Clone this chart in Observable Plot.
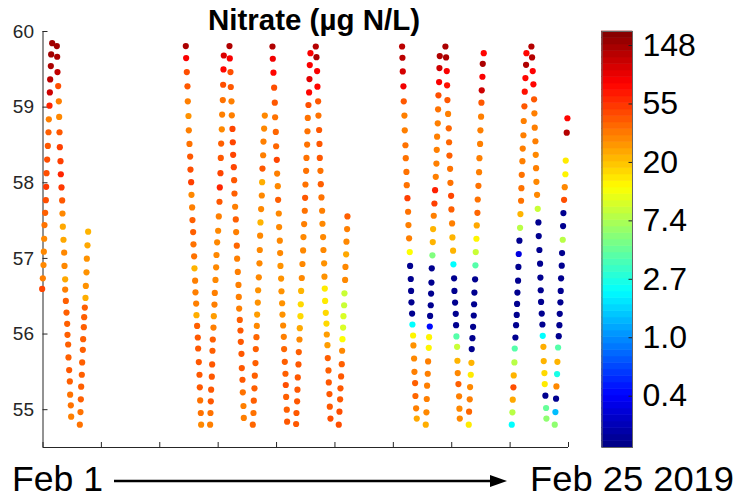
<!DOCTYPE html>
<html><head><meta charset="utf-8">
<script src="https://cdn.jsdelivr.net/npm/d3@7"></script>
<script src="https://cdn.jsdelivr.net/npm/@observablehq/plot@0.6"></script>
<style>
body{margin:0;background:#fff;}
#fig{position:relative;width:737px;height:499px;overflow:hidden;font-family:"Liberation Sans",Arial,sans-serif;background:#fff;}
#main,#cbar,#over{position:absolute;top:0;}
#main{left:0;} #cbar{left:590px;} #over{left:0;pointer-events:none;}
</style></head>
<body><div id="fig"><div id="main"></div><div id="cbar"></div>
<svg id="over" width="737" height="499" font-family="Liberation Sans, Arial, sans-serif">
<text id="title" x="314" y="30" text-anchor="middle" font-weight="bold" font-size="29.5">Nitrate (µg N/L)</text>
<text x="12" y="491" font-size="35" fill="#000" textLength="91" lengthAdjust="spacingAndGlyphs">Feb 1</text>
<line x1="114" y1="481" x2="493" y2="481" stroke="#000" stroke-width="2.5"/>
<path d="M507,481L490,475L490,487Z" fill="#000"/>
<text x="530" y="491" font-size="35" fill="#000" textLength="204" lengthAdjust="spacingAndGlyphs">Feb 25 2019</text>
</svg></div>
<script>
// each point: [day of Feb 2019, latitude (°N), nitrate (µg N/L)]
const trackA = [[1.419,59.846,150],[1.373,59.697,150],[1.358,59.543,140],[1.327,59.367,125],[1.312,59.195,110],[1.297,59.019,60],[1.266,58.839,32],[1.251,58.668,40],[1.221,58.487,42],[1.190,58.307,45],[1.160,58.127,45],[1.145,57.946,52],[1.129,57.770,45],[1.099,57.603,40],[1.068,57.441,35],[1.053,57.260,30],[1.038,57.089,30],[1.023,56.913,30],[0.992,56.737,32],[0.962,56.596,48]];
const trackB = [[1.632,59.807,150],[1.647,59.666,140],[1.662,59.463,120],[1.693,59.279,45],[1.723,59.077,32],[1.738,58.870,30],[1.754,58.668,42],[1.769,58.470,50],[1.799,58.285,50],[1.814,58.113,60],[1.845,57.938,52],[1.875,57.766,42],[1.890,57.594,30],[1.906,57.419,24],[1.936,57.247,24],[1.967,57.076,30],[1.982,56.900,30],[2.012,56.724,24],[2.012,56.588,32],[2.043,56.438,40],[2.073,56.284,40],[2.104,56.135,40],[2.119,55.990,40],[2.149,55.862,40],[2.164,55.691,40],[2.195,55.523,42],[2.225,55.374,40],[2.240,55.198,35],[2.271,55.057,35],[2.286,54.908,32]];
const trackC = [[3.062,57.353,22],[3.032,57.173,24],[3.002,56.997,28],[2.986,56.816,28],[2.956,56.636,28],[2.941,56.478,23],[2.910,56.350,40],[2.880,56.223,40],[2.865,56.091,40],[2.834,55.932,40],[2.819,55.792,40],[2.789,55.625,40],[2.773,55.462,40],[2.743,55.304,40],[2.728,55.137,40],[2.712,54.969,35],[2.682,54.802,35]];
const trackD = [[7.522,59.807,140],[7.537,59.648,80],[7.568,59.463,45],[7.598,59.275,42],[7.613,59.077,32],[7.644,58.883,28],[7.659,58.694,32],[7.689,58.514,35],[7.720,58.347,42],[7.735,58.175,45],[7.766,58.008,50],[7.781,57.841,30],[7.811,57.674,32],[7.826,57.507,40],[7.857,57.348,40],[7.872,57.186,35],[7.902,57.027,35],[7.918,56.869,22],[7.948,56.706,32],[7.963,56.552,32],[7.994,56.403,32],[8.009,56.249,23],[8.039,56.108,40],[8.070,55.954,42],[8.085,55.809,42],[8.116,55.629,42],[8.146,55.462,42],[8.161,55.295,42],[8.177,55.123,35],[8.207,54.956,35],[8.222,54.802,30]];
const trackE = [[9.257,59.683,100],[9.242,59.499,75],[9.227,59.296,45],[9.212,59.094,35],[9.181,58.901,32],[9.166,58.707,30],[9.136,58.518,40],[9.120,58.329,42],[9.105,58.127,48],[9.075,57.938,60],[9.060,57.749,42],[9.029,57.555,32],[8.999,57.366,30],[8.953,57.212,30],[8.923,57.045,30],[8.907,56.882,30],[8.877,56.715,30],[8.846,56.544,32],[8.831,56.390,32],[8.801,56.236,26],[8.786,56.086,32],[8.755,55.928,40],[8.740,55.779,40],[8.725,55.598,42],[8.710,55.436,42],[8.679,55.264,42],[8.664,55.110,42],[8.649,54.956,35],[8.633,54.802,32]];
const trackF = [[9.516,59.807,135],[9.531,59.644,80],[9.562,59.463,45],[9.577,59.266,42],[9.608,59.077,32],[9.623,58.892,32],[9.653,58.712,48],[9.668,58.536,48],[9.684,58.369,48],[9.714,58.206,48],[9.729,58.034,42],[9.745,57.858,40],[9.775,57.683,32],[9.805,57.515,40],[9.821,57.348,32],[9.851,57.168,38],[9.866,56.997,32],[9.897,56.821,32],[9.927,56.649,32],[9.942,56.491,32],[9.958,56.337,32],[9.988,56.187,40],[10.018,56.047,42],[10.034,55.897,42],[10.064,55.739,42],[10.079,55.550,42],[10.110,55.396,42],[10.125,55.229,35],[10.155,55.049,32],[10.171,54.891,32]];
const trackG = [[11.130,58.888,30],[11.099,58.716,30],[11.069,58.545,32],[11.054,58.364,32],[11.023,58.188,42],[11.008,58.008,23],[10.993,57.832,30],[10.962,57.652,30],[10.932,57.476,22],[10.916,57.300,30],[10.901,57.111,30],[10.886,56.935,30],[10.856,56.750,30],[10.825,56.579,28],[10.810,56.416,28],[10.779,56.258,26],[10.764,56.108,30],[10.749,55.959,38],[10.719,55.801,40],[10.703,55.616,40],[10.673,55.449,40],[10.658,55.282,40],[10.627,55.119,40],[10.612,54.956,35],[10.582,54.802,38]];
const trackH = [[11.480,59.802,135],[11.495,59.640,85],[11.525,59.455,75],[11.556,59.257,45],[11.586,59.059,42],[11.601,58.866,35],[11.632,58.672,38],[11.647,58.483,38],[11.678,58.303,48],[11.693,58.122,32],[11.723,57.955,30],[11.738,57.775,40],[11.769,57.594,30],[11.784,57.414,30],[11.815,57.234,30],[11.830,57.071,30],[11.845,56.900,28],[11.875,56.733,28],[11.891,56.566,28],[11.921,56.407,28],[11.936,56.258,28],[11.967,56.113,30],[11.997,55.963,32],[12.012,55.801,38],[12.043,55.633,40],[12.073,55.475,40],[12.088,55.326,45],[12.104,55.168,40],[12.134,55.000,40],[12.149,54.842,42]];
const trackI = [[13.215,59.714,80],[13.184,59.556,80],[13.169,59.371,95],[13.154,59.195,75],[13.123,59.028,45],[13.093,58.857,35],[13.078,58.681,35],[13.063,58.505,35],[13.032,58.329,35],[13.017,58.158,35],[12.986,57.977,35],[12.971,57.801,42],[12.956,57.630,35],[12.926,57.454,32],[12.895,57.282,30],[12.880,57.106,30],[12.849,56.926,30],[12.819,56.741,30],[12.789,56.570,22],[12.773,56.394,17],[12.758,56.236,17],[12.728,56.078,24],[12.713,55.928,30],[12.682,55.761,40],[12.667,55.598,42],[12.636,55.427,42],[12.621,55.264,42],[12.606,55.110,42],[12.575,54.956,42],[12.560,54.811,42]];
const trackJ = [[13.458,59.802,130],[13.489,59.661,140],[13.519,59.477,80],[13.534,59.270,75],[13.565,59.077,42],[13.580,58.888,35],[13.611,58.698,42],[13.626,58.514,42],[13.641,58.329,42],[13.671,58.158,35],[13.687,57.982,40],[13.717,57.806,35],[13.748,57.630,32],[13.763,57.458,30],[13.793,57.282,30],[13.808,57.111,30],[13.839,56.935,28],[13.854,56.759,28],[13.869,56.601,15],[13.885,56.438,15],[13.915,56.280,17],[13.945,56.139,17],[13.961,55.994,26],[13.991,55.853,26],[14.006,55.682,40],[14.037,55.519,40],[14.052,55.361,42],[14.082,55.207,42],[14.098,55.040,42],[14.128,54.882,45]];
const trackK = [[14.904,57.555,40],[14.889,57.388,32],[14.859,57.221,30],[14.844,57.054,24],[14.813,56.887,30],[14.798,56.715,30],[14.767,56.539,9],[14.752,56.381,9],[14.722,56.236,10],[14.706,56.086,10],[14.676,55.932,13],[14.661,55.779,30],[14.645,55.602,40],[14.615,55.440,42],[14.585,55.282,42],[14.569,55.137,42],[14.539,54.974,45],[14.508,54.802,45]];
const trackL = [[17.400,59.802,125],[17.416,59.653,125],[17.431,59.472,105],[17.461,59.275,85],[17.476,59.077,42],[17.507,58.888,32],[17.522,58.694,32],[17.553,58.496,35],[17.568,58.325,35],[17.598,58.144,35],[17.613,57.968,35],[17.644,57.797,50],[17.674,57.617,35],[17.690,57.441,32],[17.720,57.265,32],[17.750,57.084,13],[17.766,56.900,0.17],[17.796,56.728,0.17],[17.811,56.570,0.17],[17.827,56.420,0.17],[17.857,56.271,0.17],[17.872,56.126,2.2],[17.903,55.981,14],[17.918,55.849,28],[17.948,55.677,30],[17.964,55.501,32],[17.994,55.352,40],[18.009,55.181,38],[18.040,55.018,32],[18.070,54.882,24]];
const trackM = [[19.120,59.675,135],[19.105,59.516,110],[19.090,59.332,80],[19.060,59.156,45],[19.044,58.971,35],[19.029,58.786,32],[18.999,58.610,32],[18.983,58.435,32],[18.968,58.254,32],[18.938,58.078,32],[18.907,57.902,62],[18.877,57.726,50],[18.846,57.564,32],[18.816,57.388,22],[18.801,57.216,22],[18.785,57.041,5.4],[18.755,56.869,0.17],[18.740,56.680,0.17],[18.724,56.535,0.17],[18.709,56.381,0.17],[18.679,56.240,0.17],[18.664,56.100,0.4],[18.633,55.959,14],[18.618,55.818,14],[18.588,55.638,32],[18.572,55.475,32],[18.542,55.317,32],[18.527,55.141,32],[18.511,54.965,30],[18.481,54.802,23]];
const trackN = [[19.379,59.802,140],[19.409,59.657,140],[19.440,59.477,80],[19.455,59.288,70],[19.470,59.094,42],[19.501,58.910,32],[19.531,58.720,38],[19.546,58.536,38],[19.562,58.360,40],[19.592,58.184,35],[19.607,57.999,35],[19.638,57.828,48],[19.653,57.647,40],[19.683,57.463,32],[19.699,57.278,22],[19.729,57.102,22],[19.744,56.922,2.2],[19.775,56.737,0.17],[19.790,56.570,0.17],[19.820,56.416,0.17],[19.851,56.267,0.17],[19.866,56.117,0.17],[19.881,55.968,4],[19.912,55.831,9],[19.927,55.647,22],[19.942,55.484,30],[19.973,55.339,40],[20.003,55.176,32],[20.018,55.013,30],[20.034,54.882,30]];
const trackO = [[21.129,59.714,75],[21.084,59.573,140],[21.069,59.402,80],[21.038,59.222,110],[21.023,59.059,42],[21.008,58.874,32],[20.977,58.694,32],[20.962,58.514,32],[20.932,58.325,32],[20.916,58.140,32],[20.886,57.960,35],[20.855,57.779,35],[20.840,57.603,38],[20.810,57.436,24],[20.795,57.260,14],[20.764,57.084,9],[20.749,56.909,4],[20.734,56.724,0.17],[20.703,56.548,0.17],[20.688,56.394,0.17],[20.673,56.245,0.17],[20.642,56.095,0.17],[20.612,55.946,0.17],[20.581,55.801,0.17],[20.566,55.620,22],[20.536,55.462,15],[20.505,55.299,30],[20.490,55.137,32],[20.460,54.974,38],[20.444,54.802,15]];
const trackP = [[23.078,59.714,75],[23.062,59.560,135],[23.032,59.384,75],[23.002,59.204,70],[22.986,59.011,42],[22.956,58.817,32],[22.941,58.628,32],[22.910,58.452,32],[22.895,58.285,32],[22.865,58.105,35],[22.849,57.929,35],[22.834,57.762,35],[22.804,57.586,22],[22.788,57.405,8],[22.758,57.234,0.17],[22.727,57.058,0.3],[22.712,56.887,0.17],[22.697,56.706,0.17],[22.667,56.548,0.17],[22.651,56.398,0.17],[22.636,56.253,0.17],[22.606,56.117,0.17],[22.575,55.954,0.17],[22.545,55.809,4],[22.530,55.625,8],[22.499,55.453,22],[22.484,55.295,45],[22.454,55.132,24],[22.438,54.965,8],[22.408,54.802,2.2]];
const trackQ = [[23.306,59.802,130],[23.336,59.657,130],[23.367,59.477,78],[23.397,59.301,75],[23.428,59.103,42],[23.443,58.918,32],[23.458,58.729,32],[23.489,58.549,32],[23.504,58.369,30],[23.519,58.193,32],[23.534,58.012,30],[23.565,57.841,30],[23.595,57.656,9],[23.625,57.476,0.17],[23.641,57.295,0.17],[23.671,57.111,0.17],[23.702,56.931,0.17],[23.717,56.746,0.17],[23.732,56.579,0.17],[23.747,56.425,0.17],[23.778,56.271,0.17],[23.808,56.126,0.17],[23.823,55.976,2.2],[23.854,55.831,23],[23.869,55.642,22],[23.900,55.484,17],[23.915,55.339,15],[23.945,55.185,0.17],[23.976,55.022,4.5],[23.991,54.882,6]];
const trackR = [[24.950,58.853,75],[24.919,58.663,130],[24.874,58.294,15],[24.858,58.113,14],[24.828,57.942,30],[24.798,57.775,45],[24.767,57.599,0.17],[24.752,57.428,0.17],[24.737,57.247,8],[24.706,57.071,0.17],[24.691,56.904,0.17],[24.661,56.737,0.17],[24.645,56.570,0.17],[24.630,56.420,0.17],[24.600,56.267,0.17],[24.584,56.117,0.17],[24.554,55.972,0.17],[24.524,55.822,4],[24.493,55.633,22],[24.478,55.471,2.6],[24.448,55.308,30],[24.432,55.146,0.17],[24.402,54.969,1.4],[24.372,54.802,6]];

const tracks = [trackA,trackB,trackC,trackD,trackE,trackF,trackG,trackH,trackI,trackJ,trackK,trackL,trackM,trackN,trackO,trackP,trackQ,trackR];

// axes
const xDomain = [1, 25];            // Feb 1 .. Feb 25
const xTicks = d3.range(10).map(k => 1 + k * 24 / 9);
const yDomain = [54.5, 60];
const yTicks = [55, 56, 57, 58, 59, 60];

// colour bar (log scale, ticks at e^-1 .. e^5)
const cbDomain = [0.1529, 188.7];
const cbTickExp = [-1, 0, 1, 2, 3, 4, 5];
const cbTickLabels = ["0.4", "1.0", "2.7", "7.4", "20", "55", "148"];
const jetStops = [0, 0.125, 0.375, 0.625, 0.875, 1];
const jetColors = ["#000080", "#0000ff", "#00ffff", "#ffff00", "#ff0000", "#800000"];

const lnLo = Math.log(cbDomain[0]), lnHi = Math.log(cbDomain[1]);
const colorScale = {
  type: "log",
  domain: jetStops.map(t => Math.exp(lnLo + t * (lnHi - lnLo))),
  range: jetColors,
  interpolate: "rgb",
  clamp: true
};

const points = tracks.flatMap((tr, k) => tr.map(([day, lat, no3]) => ({track: k, day, lat, no3})));

const W = 590, H = 460, ml = 42.5, mr = 22, mt = 31, mb = 13;
const axisCol = "#262626";
const main = Plot.plot({
  width: W, height: H,
  marginLeft: ml, marginRight: mr, marginTop: mt, marginBottom: mb,
  style: {fontFamily: "Liberation Sans, Arial, sans-serif", background: "transparent", overflow: "visible"},
  x: {domain: xDomain, axis: null},
  y: {domain: yDomain, axis: null},
  color: colorScale,
  marks: [
    Plot.ruleX([xDomain[0]], {stroke: axisCol, strokeWidth: 1}),
    Plot.ruleY([yDomain[0]], {stroke: axisCol, strokeWidth: 1}),
    Plot.ruleX(xTicks, {insetTop: H - mt - mb - 5, stroke: axisCol}),
    Plot.ruleY(yTicks, {insetRight: W - ml - mr - 5, stroke: axisCol}),
    Plot.axisY({ticks: yTicks, label: null, tickSize: 0, tickPadding: 9, fontSize: 19, fill: axisCol, tickFormat: d => String(d)}),
    Plot.dot(points, {x: "day", y: "lat", fill: "no3", r: 3.1, stroke: null, clip: false})
  ]
});
document.getElementById("main").appendChild(main);

// colour bar
const nLev = 64;
const levels = d3.range(nLev).map(i => ({
  y1: Math.exp(lnLo + i * (lnHi - lnLo) / nLev),
  y2: Math.exp(lnLo + (i + 1) * (lnHi - lnLo) / nLev),
  v: Math.exp(lnLo + (i + 0.5) * (lnHi - lnLo) / nLev)
}));
const cbTickData = cbTickExp.map((e, i) => ({value: Math.exp(e), label: cbTickLabels[i]}));
const cbar = Plot.plot({
  width: 147, height: H,
  marginLeft: 11.5, marginRight: 105, marginTop: mt, marginBottom: mb,
  style: {fontFamily: "Liberation Sans, Arial, sans-serif", background: "transparent", overflow: "visible"},
  x: {domain: [0, 1], axis: null},
  y: {type: "log", domain: cbDomain, axis: null},
  color: colorScale,
  marks: [
    Plot.rect(levels, {x1: 0, x2: 1, y1: "y1", y2: "y2", fill: "v", stroke: "v", strokeWidth: 0.6}),
    Plot.ruleY(cbTickData, {y: "value", insetLeft: 27, stroke: "#222"}),
    Plot.frame({stroke: "#666", strokeWidth: 1}),
    Plot.text(cbTickData, {y: "value", text: "label", frameAnchor: "right", dx: 10, textAnchor: "start", fontSize: 32, fill: "#000"})
  ]
});
document.getElementById("cbar").appendChild(cbar);
</script>
</body></html>
